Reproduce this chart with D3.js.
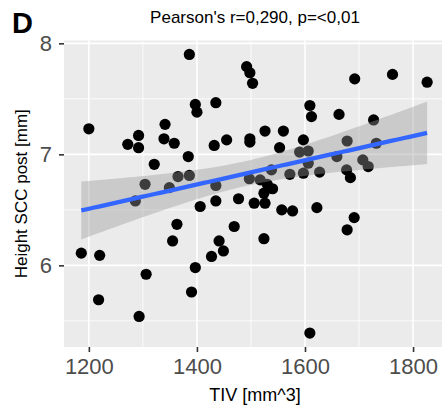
<!DOCTYPE html>
<html>
<head>
<meta charset="utf-8">
<script src="https://cdn.jsdelivr.net/npm/d3@7.9.0/dist/d3.min.js"></script>
<style>
  body { margin: 0; background: #fff; }
  text { font-family: "Liberation Sans", Arial, Helvetica, sans-serif; }
</style>
</head>
<body>
<svg id="chart" width="442" height="408"></svg>
<script>
// TIV [mm^3] and height of SCC post [mm]
const tiv = [1386, 1492, 1498, 1503, 1397, 1400, 1435, 1200, 1341, 1292,
  1272, 1292, 1339, 1358, 1432, 1455, 1498, 1498, 1384, 1321,
  1386, 1365, 1304, 1349, 1435, 1497, 1517, 1692, 1762, 1826,
  1609, 1612, 1663, 1727, 1526, 1560, 1597, 1553, 1678, 1732,
  1590, 1606, 1606, 1659, 1707, 1717, 1538, 1572, 1597, 1627,
  1677, 1684, 1530, 1540, 1524, 1186, 1220, 1286, 1406, 1435,
  1477, 1506, 1363, 1355, 1469, 1441, 1449, 1427, 1397, 1306,
  1390, 1218, 1293, 1524, 1526, 1557, 1577, 1622, 1691, 1678, 1609];
const height = [7.90, 7.79, 7.735, 7.64, 7.45, 7.38, 7.465, 7.23, 7.27, 7.17,
  7.09, 7.06, 7.14, 7.10, 7.08, 7.13, 7.14, 7.11, 6.98, 6.91,
  6.81, 6.80, 6.73, 6.70, 6.72, 6.78, 6.77, 7.68, 7.72, 7.65,
  7.44, 7.34, 7.36, 7.31, 7.21, 7.21, 7.13, 7.06, 7.12, 7.10,
  7.02, 7.03, 6.92, 6.98, 6.95, 6.89, 6.86, 6.82, 6.83, 6.84,
  6.86, 6.79, 6.73, 6.69, 6.65, 6.11, 6.09, 6.58, 6.53, 6.58,
  6.60, 6.56, 6.37, 6.22, 6.35, 6.22, 6.13, 6.08, 5.98, 5.92,
  5.76, 5.69, 5.54, 6.24, 6.56, 6.50, 6.49, 6.52, 6.43, 6.32, 5.39];

const xMajor = [1200, 1400, 1600, 1800];
const xMinor = [1300, 1500, 1700];
const yMajor = [6, 7, 8];
const yMinor = [5.5, 6.5, 7.5];

const data = tiv.map((d, i) => ({ x: d, y: height[i] }));

const svg = d3.select('#chart');
const pLeft = 64, pRight = 444.4, pTop = 40.5, pBottom = 347;

// ggplot style 5% expansion
function expand([a, b]) {
  const pad = (b - a) * 0.05;
  return [a - pad, b + pad];
}

const x = d3.scaleLinear().domain(expand(d3.extent(tiv))).range([pLeft, pRight]);
const y = d3.scaleLinear().domain(expand(d3.extent(height))).range([pBottom, pTop]);

// panel
svg.append('rect')
  .attr('x', pLeft).attr('y', pTop)
  .attr('width', pRight - pLeft).attr('height', pBottom - pTop)
  .attr('fill', '#EBEBEB');

const grid = svg.append('g').attr('stroke', '#fff');
grid.selectAll('.xmin').data(xMinor).enter().append('line')
  .attr('x1', d => x(d)).attr('x2', d => x(d)).attr('y1', pTop).attr('y2', pBottom)
  .attr('stroke-width', 0.8);
grid.selectAll('.ymin').data(yMinor).enter().append('line')
  .attr('y1', d => y(d)).attr('y2', d => y(d)).attr('x1', pLeft).attr('x2', pRight)
  .attr('stroke-width', 0.8);
grid.selectAll('.xmaj').data(xMajor).enter().append('line')
  .attr('x1', d => x(d)).attr('x2', d => x(d)).attr('y1', pTop).attr('y2', pBottom)
  .attr('stroke-width', 1.6);
grid.selectAll('.ymaj').data(yMajor).enter().append('line')
  .attr('y1', d => y(d)).attr('y2', d => y(d)).attr('x1', pLeft).attr('x2', pRight)
  .attr('stroke-width', 1.6);

// points
svg.append('g').selectAll('circle').data(data).enter().append('circle')
  .attr('cx', d => x(d.x)).attr('cy', d => y(d.y))
  .attr('r', 5.6).attr('fill', '#000');

// linear fit with 95% confidence band (like geom_smooth(method = "lm"))
const n = data.length;
const mx = d3.mean(tiv), my = d3.mean(height);
const sxx = d3.sum(tiv, v => (v - mx) ** 2);
const sxy = d3.sum(data, d => (d.x - mx) * (d.y - my));
const slope = sxy / sxx;
const icpt = my - slope * mx;
const rss = d3.sum(data, d => (d.y - icpt - slope * d.x) ** 2);
const sigma = Math.sqrt(rss / (n - 2));
const tcrit = 1.99;
const [x0, x1] = d3.extent(tiv);
const fit = d3.range(80).map(i => {
  const xv = x0 + (x1 - x0) * i / 79;
  const yv = icpt + slope * xv;
  const se = sigma * Math.sqrt(1 / n + (xv - mx) ** 2 / sxx);
  return { x: xv, y: yv, lo: yv - tcrit * se, hi: yv + tcrit * se };
});

svg.append('path').datum(fit)
  .attr('d', d3.area().x(d => x(d.x)).y0(d => y(d.lo)).y1(d => y(d.hi)))
  .attr('fill', '#999999').attr('fill-opacity', 0.4);
svg.append('path').datum(fit)
  .attr('d', d3.line().x(d => x(d.x)).y(d => y(d.y)))
  .attr('fill', 'none').attr('stroke', '#3366FF').attr('stroke-width', 4.3);

// axes
const xAxis = d3.axisBottom(x).tickValues(xMajor).tickFormat(d3.format('d'))
  .tickSize(5).tickPadding(6);
const gx = svg.append('g').attr('transform', `translate(0,${pBottom})`).call(xAxis);
gx.select('.domain').remove();
gx.selectAll('line').attr('stroke', '#333').attr('stroke-width', 1.6);
gx.selectAll('text').attr('fill', '#4D4D4D').attr('font-size', 22)
  .attr('font-family', '"Liberation Sans", Arial, sans-serif');

const yAxis = d3.axisLeft(y).tickValues(yMajor).tickFormat(d3.format('d'))
  .tickSize(5).tickPadding(7);
const gy = svg.append('g').attr('transform', `translate(${pLeft},0)`).call(yAxis);
gy.select('.domain').remove();
gy.selectAll('line').attr('stroke', '#333').attr('stroke-width', 1.6);
gy.selectAll('text').attr('fill', '#4D4D4D').attr('font-size', 22)
  .attr('font-family', '"Liberation Sans", Arial, sans-serif');

// titles
svg.append('text').attr('x', 255).attr('y', 23).attr('text-anchor', 'middle')
  .attr('font-size', 17).attr('fill', '#000').text("Pearson's r=0,290, p=<0,01");
svg.append('text').attr('x', 255).attr('y', 401).attr('text-anchor', 'middle')
  .attr('font-size', 18).attr('fill', '#000').text('TIV [mm^3]');
svg.append('text').attr('transform', `translate(27,${(pTop + pBottom) / 2}) rotate(-90)`)
  .attr('text-anchor', 'middle').attr('font-size', 17).attr('fill', '#000')
  .text('Height SCC post [mm]');
svg.append('text').attr('x', 12).attr('y', 33).attr('font-size', 29)
  .attr('font-weight', 'bold').attr('fill', '#000').text('D');
</script>
</body>
</html>
